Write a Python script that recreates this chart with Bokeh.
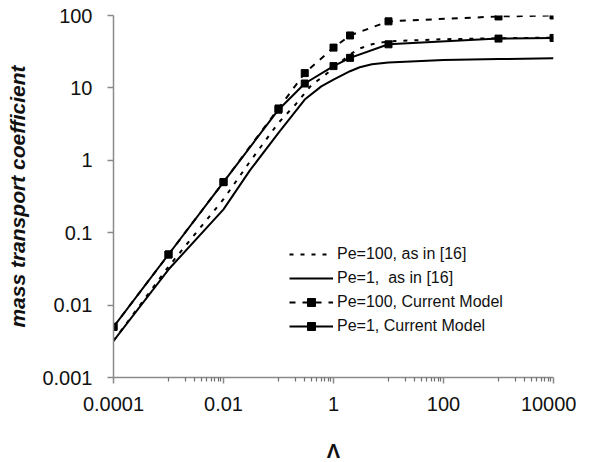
from bokeh.plotting import figure
from bokeh.models import FixedTicker, Legend, LegendItem
from bokeh.embed import file_html
from bokeh.resources import INLINE

# Data
lam_ref = [1e-4, 1e-3, 1e-2, 0.03, 0.1, 0.3, 0.6, 1, 2, 3, 5, 10, 100, 1000, 1e4]
pe1_ref = [0.0032, 0.031, 0.21, 0.72, 2.4, 6.9, 10.5, 13, 17, 19.3, 21.2, 22.4, 24.3, 25, 25.7]

lam_ref100 = [1e-4, 1e-3, 1e-2, 0.03, 0.1, 0.2, 0.4, 0.7, 1, 2, 3, 5, 10, 100, 1000, 1e4]
pe100_ref = [0.0032, 0.034, 0.29, 0.95, 3.3, 5.8, 11, 15, 19, 29, 35, 40, 44, 47, 48.5, 49.5]

lam_cur = [1e-4, 1e-3, 1e-2, 0.1, 0.3, 1, 2, 10, 1000, 1e4]
pe1_cur = [0.005, 0.05, 0.5, 5.0, 11.5, 20, 26, 40, 48, 49]
pe100_cur = [0.005, 0.05, 0.5, 5.2, 16, 36, 53, 83, 97, 100]

x_major = [1e-4, 1e-2, 1, 100, 1e4]
x_labels = {1e-4: "0.0001", 1e-2: "0.01", 1: "1", 100: "100", 1e4: "10000"}
y_major = [1e-3, 1e-2, 1e-1, 1, 10, 100]
y_labels = {1e-3: "0.001", 1e-2: "0.01", 1e-1: "0.1", 1: "1", 10: "10", 100: "100"}

x_minor = []
for a in [-4, -2, 0, 2]:
    for j in range(1, 10):
        x_minor.append(j * 10 ** (a + 1))

p = figure(x_axis_type="log", y_axis_type="log",
           x_range=(1e-4, 1e4), y_range=(1e-3, 100),
           frame_width=440, frame_height=362,
           min_border_left=113, min_border_right=23,
           min_border_top=15, min_border_bottom=80,
           output_backend="svg", toolbar_location=None)
p.outline_line_color = None
p.grid.visible = False
p.background_fill_color = "white"
p.border_fill_color = "white"

FONT = "Liberation Sans"
axis_gray = "#8a8a8a"

p.xaxis.ticker = FixedTicker(ticks=x_major, minor_ticks=x_minor)
p.yaxis.ticker = FixedTicker(ticks=y_major, minor_ticks=[])
p.xaxis.major_label_overrides = x_labels
p.yaxis.major_label_overrides = y_labels

for ax in (p.xaxis[0], p.yaxis[0]):
    ax.axis_line_color = axis_gray
    ax.axis_line_width = 1.5
    ax.major_tick_line_color = axis_gray
    ax.minor_tick_line_color = "#6f6f6f"
    ax.major_tick_line_width = 1.5
    ax.minor_tick_line_width = 1.2
    ax.major_tick_out = 6
    ax.major_tick_in = 0
    ax.minor_tick_out = 4
    ax.minor_tick_in = 0
    ax.major_label_text_font = FONT
    ax.major_label_text_font_size = "20px"
    ax.major_label_text_color = "#111111"
    ax.axis_label_text_font = FONT
    ax.axis_label_text_color = "#111111"

p.xaxis.major_label_standoff = 13
p.yaxis.major_label_standoff = 15
p.xaxis.axis_label = "Λ"
p.xaxis.axis_label_text_font_style = "bold"
p.xaxis.axis_label_text_font_size = "20px"
p.xaxis.axis_label_standoff = 26
p.yaxis.axis_label = "mass transport coefficient"
p.yaxis.axis_label_text_font_style = "bold italic"
p.yaxis.axis_label_text_font_size = "21px"
p.yaxis.axis_label_standoff = 10

r1 = p.line(lam_ref100, pe100_ref, line_color="black", line_width=2, line_dash="4 7")
r2 = p.line(lam_ref, pe1_ref, line_color="black", line_width=2)
r3l = p.line(lam_cur, pe100_cur, line_color="black", line_width=2, line_dash="6 7")
r3m = p.scatter(lam_cur, pe100_cur, marker="square", size=7, color="black")
r4l = p.line(lam_cur, pe1_cur, line_color="black", line_width=2)
r4m = p.scatter(lam_cur, pe1_cur, marker="square", size=7, color="black")

legend = Legend(items=[
    LegendItem(label="Pe=100, as in [16]", renderers=[r1]),
    LegendItem(label="Pe=1,  as in [16]", renderers=[r2]),
    LegendItem(label="Pe=100, Current Model", renderers=[r3l, r3m]),
    LegendItem(label="Pe=1, Current Model", renderers=[r4l, r4m]),
], location=(176, 41))
legend.border_line_color = None
legend.background_fill_alpha = 0
legend.label_text_font = FONT
legend.label_text_font_size = "16px"
legend.label_text_color = "#111111"
legend.glyph_width = 44
legend.glyph_height = 20
legend.label_height = 20
legend.label_standoff = 4
legend.spacing = 4
legend.padding = 10
legend.margin = 0
p.add_layout(legend, "center")

open("out.html", "w").write(file_html(p, INLINE))
